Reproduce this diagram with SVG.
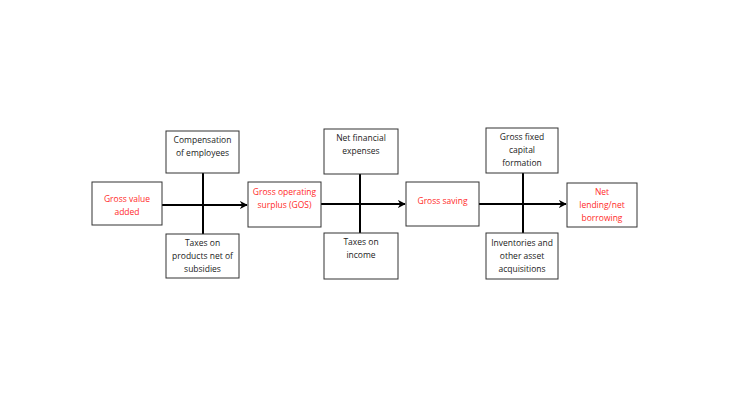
<svg xmlns="http://www.w3.org/2000/svg" width="730" height="410" viewBox="0 0 730 410">
<defs>
<marker id="ah" viewBox="0 0 10 10" refX="9" refY="5" markerWidth="4" markerHeight="4" orient="auto" markerUnits="strokeWidth">
<path d="M0,0 L10,5 L0,10 L3,5 Z" fill="#000"/>
</marker>
<style>
.box{fill:#fff;stroke:#333;stroke-width:1}
.t{font-family:"Open Sans","Liberation Sans",sans-serif;font-size:8.5px;text-anchor:middle;fill:#222}
.r{fill:#ff2a2a}
.c{stroke:#000;stroke-width:2;fill:none}
</style>
</defs>
<rect width="730" height="410" fill="#fff"/>
<g id="connectors">
<line class="c" x1="162" y1="205" x2="247" y2="205" marker-end="url(#ah)"/>
<line class="c" x1="203" y1="173" x2="203" y2="234"/>
<line class="c" x1="321" y1="204" x2="405" y2="204" marker-end="url(#ah)"/>
<line class="c" x1="360" y1="174" x2="360" y2="233"/>
<line class="c" x1="479" y1="204" x2="566" y2="204" marker-end="url(#ah)"/>
<line class="c" x1="523" y1="173" x2="523" y2="233"/>
</g>
<g id="gva">
<rect class="box" x="92" y="182" width="70" height="43"/>
<text class="t r" x="127" y="202">Gross value</text>
<text class="t r" x="127" y="215">added</text>
</g>
<g id="comp">
<rect class="box" x="166" y="131" width="73" height="42"/>
<text class="t" x="202.5" y="143">Compensation</text>
<text class="t" x="202.5" y="156">of employees</text>
</g>
<g id="taxprod">
<rect class="box" x="166" y="234" width="73" height="44"/>
<text class="t" x="202.5" y="246">Taxes on</text>
<text class="t" x="202.5" y="259">products net of</text>
<text class="t" x="202.5" y="272">subsidies</text>
</g>
<g id="gos">
<rect class="box" x="248" y="182" width="73" height="45"/>
<text class="t r" x="284.5" y="195">Gross operating</text>
<text class="t r" x="284.5" y="208">surplus (GOS)</text>
</g>
<g id="netfin">
<rect class="box" x="324" y="129" width="74" height="45"/>
<text class="t" x="361" y="141">Net financial</text>
<text class="t" x="361" y="154">expenses</text>
</g>
<g id="taxinc">
<rect class="box" x="324" y="233" width="74" height="46"/>
<text class="t" x="361" y="245">Taxes on</text>
<text class="t" x="361" y="258">income</text>
</g>
<g id="saving">
<rect class="box" x="406" y="182" width="73" height="44"/>
<text class="t r" x="442.5" y="204">Gross saving</text>
</g>
<g id="gfcf">
<rect class="box" x="486" y="128" width="72" height="45"/>
<text class="t" x="522" y="140">Gross fixed</text>
<text class="t" x="522" y="153">capital</text>
<text class="t" x="522" y="166">formation</text>
</g>
<g id="inv">
<rect class="box" x="486" y="233" width="72" height="46"/>
<text class="t" x="522" y="246">Inventories and</text>
<text class="t" x="522" y="259">other asset</text>
<text class="t" x="522" y="272">acquisitions</text>
</g>
<g id="netlend">
<rect class="box" x="567" y="183" width="70" height="44"/>
<text class="t r" x="602" y="195">Net</text>
<text class="t r" x="602" y="208">lending/net</text>
<text class="t r" x="602" y="221">borrowing</text>
</g>
</svg>
